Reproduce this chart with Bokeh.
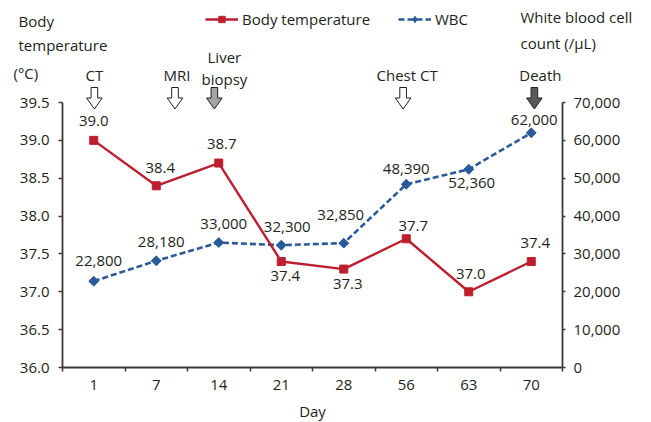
from bokeh.plotting import figure
from bokeh.models import (Range1d, LinearAxis, FixedTicker, Legend, LegendItem, Label,
                          ColumnDataSource, NumeralTickFormatter)
from bokeh.embed import file_html
from bokeh.resources import INLINE
from bokeh.core.properties import value
import math

# ---------------- data ----------------
days = ["1", "7", "14", "21", "28", "56", "63", "70"]
temperature = [39.0, 38.4, 38.7, 37.4, 37.3, 37.7, 37.0, 37.4]
wbc = [22800, 28180, 33000, 32300, 32850, 48390, 52360, 62000]
temp_ticks = [36.0, 36.5, 37.0, 37.5, 38.0, 38.5, 39.0, 39.5]
wbc_ticks = [0, 10000, 20000, 30000, 40000, 50000, 60000, 70000]
events = ["CT", "MRI", "Liver\nbiopsy", "Chest CT", "Death"]
event_pos = [0.51, 1.8, 2.43, 5.45, 7.55]          # position on the day axis (category units)
event_fill = ["white", "white", "#a3a3a3", "white", "#595959"]

# label placement (pixels)
temp_label_dx = [0, 4, 3, 4, 4, 7, 2, 4]
temp_label_dy = [-19, -18, -19, 14, 15, -13, -18, -19]
wbc_label_dx = [5, 5, 5, 6, -3, 0, 3, 3]
wbc_label_dy = [-20, -19, -19, -18, -28, -15, 14, -13]
event_label_dx = [0, 2, 10, 4, 6]
event_label_dy = [-3, -3, 1, -3, -3]

# ---------------- layout ----------------
FONT = "Open Sans"
TXT = "#231f20"
AX = "#3a3a3a"
RED = "#be1e2d"
BLUE = "#2b5a9b"

W, H = 651, 422
PLOT_L, PLOT_R, PLOT_T, PLOT_B = 62, 562, 102, 367   # plot area in canvas px
T_MIN, T_MAX = temp_ticks[0], temp_ticks[-1]
W_MAX = wbc_ticks[-1]
PX_X = (PLOT_R - PLOT_L) / len(days)
PX_Y = (PLOT_B - PLOT_T) / (T_MAX - T_MIN)
W_PER_T = W_MAX / (T_MAX - T_MIN)


def dx(px):
    return (px - PLOT_L) / PX_X


def dy(py):
    return T_MIN + (PLOT_B - py) / PX_Y


x = [i + 0.5 for i in range(len(days))]

p = figure(width=W, height=H, output_backend="svg", toolbar_location=None,
           x_range=Range1d(dx(0), dx(W)), y_range=Range1d(dy(H), dy(0)),
           min_border=0, min_border_left=0, min_border_right=0, min_border_top=0,
           min_border_bottom=0)
p.outline_line_color = None
p.grid.visible = False
p.background_fill_color = "white"
p.border_fill_color = "white"
p.extra_y_ranges = {"wbc": Range1d((dy(H) - T_MIN) * W_PER_T, (dy(0) - T_MIN) * W_PER_T)}

# x axis
xa = p.xaxis[0]
xa.fixed_location = T_MIN
xa.bounds = (0, len(days))
xa.ticker = FixedTicker(ticks=x, minor_ticks=list(range(len(days) + 1)))
xa.major_label_overrides = {xi: d for xi, d in zip(x, days)}
xa.major_tick_out = 0
xa.major_tick_in = 0
xa.minor_tick_out = 4
xa.minor_tick_in = 0
xa.minor_tick_line_color = AX
xa.minor_tick_line_width = 1.5
xa.axis_line_color = AX
xa.axis_line_width = 1.8
xa.major_label_standoff = 8
xa.major_label_text_font = FONT
xa.major_label_text_font_size = "15px"
xa.major_label_text_color = TXT

# left y axis
ya = p.yaxis[0]
ya.fixed_location = 0
ya.ticker = FixedTicker(ticks=temp_ticks)
ya.formatter = NumeralTickFormatter(format="0.0")
ya.bounds = (T_MIN, T_MAX)
ya.major_tick_out = 4
ya.major_tick_in = 0
ya.minor_tick_line_color = None
ya.axis_line_color = AX
ya.axis_line_width = 1.8
ya.major_tick_line_color = AX
ya.major_tick_line_width = 1.5
ya.major_label_standoff = 9
ya.major_label_text_font = FONT
ya.major_label_text_font_size = "15px"
ya.major_label_text_color = TXT

# right y axis
ra = LinearAxis(y_range_name="wbc", ticker=FixedTicker(ticks=wbc_ticks),
                formatter=NumeralTickFormatter(format="0,0"), bounds=(0, W_MAX),
                fixed_location=len(days))
ra.major_tick_out = 3
ra.major_tick_in = 0
ra.minor_tick_line_color = None
ra.axis_line_color = AX
ra.axis_line_width = 1.8
ra.major_tick_line_color = AX
ra.major_tick_line_width = 1.5
ra.major_label_standoff = 8
ra.major_label_text_font = FONT
ra.major_label_text_font_size = "15px"
ra.major_label_text_color = TXT
p.add_layout(ra, "right")

# series
src = ColumnDataSource(dict(
    x=x, temp=temperature, wbc=wbc,
    temp_lab=[f"{v:.1f}" for v in temperature],
    wbc_lab=[f"{v:,}" for v in wbc],
    tdx=temp_label_dx, tdy=temp_label_dy, wdx=wbc_label_dx, wdy=wbc_label_dy,
))

wl = p.line("x", "wbc", source=src, y_range_name="wbc", color=BLUE, line_width=2.6,
            line_dash="6 3")
ws = p.scatter("x", "wbc", source=src, y_range_name="wbc", marker="square", size=7,
               angle=math.pi / 4, color=BLUE)
# legend symbol for WBC (diamond); not drawn in the plot itself
wleg = p.scatter("x", "wbc", source=src, y_range_name="wbc", marker="diamond", size=10,
                 color=BLUE, visible=False)
tl = p.line("x", "temp", source=src, color=RED, line_width=2.4)
ts = p.scatter("x", "temp", source=src, marker="square", size=8, color=RED)

p.text("x", "temp", text="temp_lab", source=src, x_offset="tdx", y_offset="tdy",
       text_align="center", text_baseline="middle", text_font=value(FONT),
       text_font_size="15px", text_color=TXT)
p.text("x", "wbc", text="wbc_lab", source=src, y_range_name="wbc", x_offset="wdx",
       y_offset="wdy", text_align="center", text_baseline="middle", text_font=value(FONT),
       text_font_size="15px", text_color=TXT)

# event arrows
shape_x = [-3.3, 3.3, 3.3, 7.8, 0, -7.8, -3.3]
shape_y = [0, 0, 10.5, 10.5, 21.5, 10.5, 10.5]
arrow_top = T_MAX + 15 / PX_Y
axs = [[c + sx / PX_X for sx in shape_x] for c in event_pos]
ays = [[arrow_top - sy / PX_Y for sy in shape_y] for _ in event_pos]
p.patches(axs, ays, fill_color=event_fill, line_color=TXT, line_width=1)
esrc = ColumnDataSource(dict(x=event_pos, y=[arrow_top] * len(events), t=events,
                             dx=event_label_dx, dy=event_label_dy))
p.text("x", "y", text="t", source=esrc, x_offset="dx", y_offset="dy", text_align="center",
       text_baseline="bottom", text_font=value(FONT), text_font_size="15px",
       text_color=TXT, text_line_height=1.1)

# legends (location: bottom-left corner, px from canvas bottom-left)
leg_kw = dict(padding=0, margin=0, spacing=0, border_line_color=None,
              background_fill_alpha=0, label_text_font=FONT, label_text_font_size="15px",
              label_text_color=TXT, glyph_width=33, glyph_height=16, label_standoff=4,
              label_height=20)
p.add_layout(Legend(items=[LegendItem(label="Body temperature", renderers=[tl, ts])],
                    location=(205, H - 29), **leg_kw))
p.add_layout(Legend(items=[LegendItem(label="WBC", renderers=[wl, wleg])],
                    location=(398, H - 29), **leg_kw))

# axis titles
for txt, px, py in [("Body", 18, 20), ("temperature", 18, 44), ("(°C)", 13, 72),
                    ("White blood cell", 520, 16), ("count (/μL)", 520, 42)]:
    p.add_layout(Label(x=dx(px), y=dy(py), text=txt, text_font=FONT, text_font_size="15px",
                       text_color=TXT, text_baseline="alphabetic", text_align="left"))
p.add_layout(Label(x=dx(312), y=dy(410), text="Day", text_font=FONT, text_font_size="15px",
                   text_color=TXT, text_baseline="middle", text_align="center"))

open("out.html", "w").write(file_html(p, INLINE))
